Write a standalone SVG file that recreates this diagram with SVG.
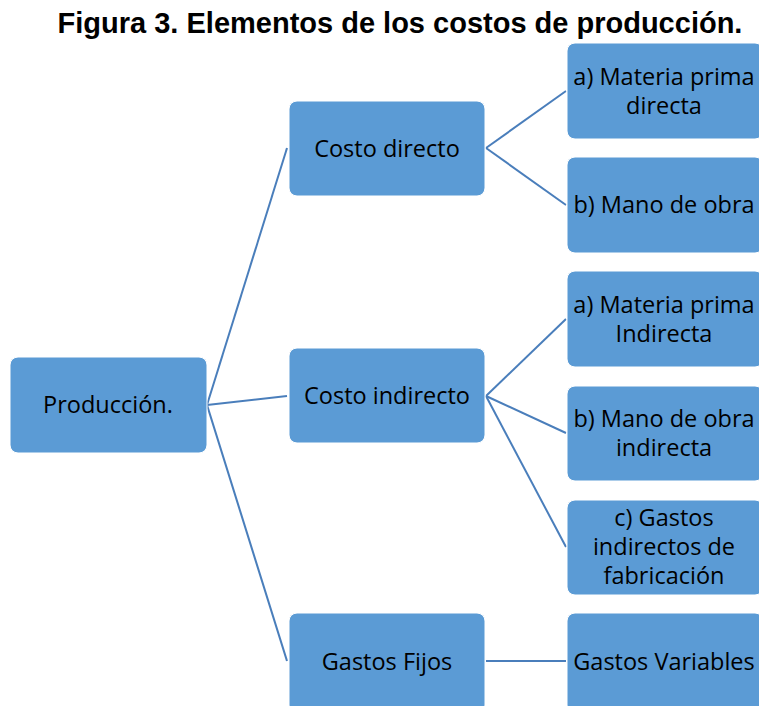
<svg xmlns="http://www.w3.org/2000/svg" width="759" height="706" viewBox="0 0 759 706">
<style>
.box{fill:#5B9BD5;stroke:#FFFFFF;stroke-width:1}
.lbl{font-family:"Open Sans","Noto Sans",sans-serif;font-size:23.5px;fill:#000;text-anchor:middle}
.title{font-family:"Liberation Sans",Arial,sans-serif;font-weight:bold;font-size:29px;fill:#000;text-anchor:middle}
.con{stroke:#4A7EBB;stroke-width:2;fill:none}
</style>
<rect width="759" height="706" fill="#FFFFFF"/>
<text class="title" x="400" y="33">Figura 3. Elementos de los costos de producción.</text>
<g id="connectors">
<line class="con" x1="207" y1="405" x2="287" y2="148"/>
<line class="con" x1="207" y1="405" x2="287" y2="396"/>
<line class="con" x1="207" y1="405" x2="287" y2="661"/>
<line class="con" x1="486" y1="148" x2="566" y2="91"/>
<line class="con" x1="486" y1="148" x2="566" y2="205"/>
<line class="con" x1="486" y1="396" x2="566" y2="319"/>
<line class="con" x1="486" y1="396" x2="566" y2="433"/>
<line class="con" x1="486" y1="396" x2="566" y2="547"/>
<line class="con" x1="486" y1="661" x2="566" y2="661"/>
</g>
<g id="produccion"><rect class="box" x="10" y="357" width="197" height="96" rx="8"/><text class="lbl" x="108" y="413">Producción.</text></g>
<g id="costo-directo"><rect class="box" x="289" y="101" width="196" height="95" rx="8"/><text class="lbl" x="387" y="157">Costo directo</text></g>
<g id="costo-indirecto"><rect class="box" x="289" y="348" width="196" height="95" rx="8"/><text class="lbl" x="387" y="404">Costo indirecto</text></g>
<g id="gastos-fijos"><rect class="box" x="289" y="613" width="196" height="100" rx="8"/><text class="lbl" x="387" y="670">Gastos Fijos</text></g>
<g id="mp-directa"><rect class="box" x="567" y="43" width="196" height="96" rx="8"/><text class="lbl" x="664" y="85">a) Materia prima</text><text class="lbl" x="664" y="114">directa</text></g>
<g id="mo-directa"><rect class="box" x="567" y="157" width="196" height="96" rx="8"/><text class="lbl" x="664" y="213">b) Mano de obra</text></g>
<g id="mp-indirecta"><rect class="box" x="567" y="271" width="196" height="96" rx="8"/><text class="lbl" x="664" y="313">a) Materia prima</text><text class="lbl" x="664" y="342">Indirecta</text></g>
<g id="mo-indirecta"><rect class="box" x="567" y="386" width="196" height="95" rx="8"/><text class="lbl" x="664" y="427">b) Mano de obra</text><text class="lbl" x="664" y="456">indirecta</text></g>
<g id="gif"><rect class="box" x="567" y="500" width="196" height="95" rx="8"/><text class="lbl" x="664" y="526">c) Gastos</text><text class="lbl" x="664" y="555">indirectos de</text><text class="lbl" x="664" y="584">fabricación</text></g>
<g id="gastos-variables"><rect class="box" x="567" y="613" width="196" height="100" rx="8"/><text class="lbl" x="664" y="670">Gastos Variables</text></g>
</svg>
